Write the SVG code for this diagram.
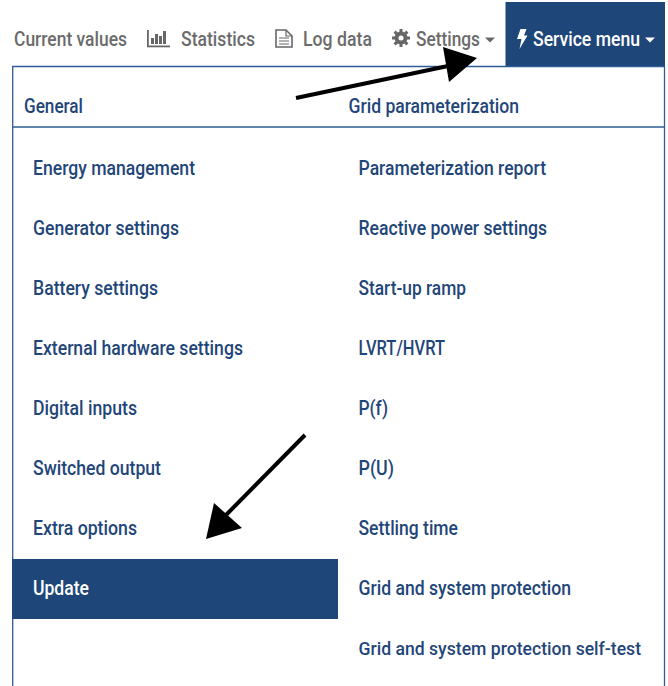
<svg xmlns="http://www.w3.org/2000/svg" width="668" height="686" viewBox="0 0 668 686">
<style>
text{font-family:Roboto,"Liberation Sans",sans-serif;font-size:19.5px;font-weight:500;fill:#1f4679}
.nav{fill:#6b6b6b}
.w{fill:#fff}
.ic{fill:#666}
.long{font-size:19px}
</style>
<rect width="668" height="686" fill="#fff"/>
<g id="navbar">
<text class="nav" x="14" y="45.500" textLength="113" lengthAdjust="spacingAndGlyphs">Current values</text>
<g id="icon-stats" class="ic"><rect x="147" y="30" width="1.8" height="17"/><rect x="147" y="45.500" width="23" height="1.800"/><rect x="151" y="38" width="3" height="6"/><rect x="155" y="34" width="3" height="10"/><rect x="159" y="36" width="3" height="8"/><rect x="163" y="31" width="3" height="13"/></g>
<text class="nav" x="181" y="45.500" textLength="74" lengthAdjust="spacingAndGlyphs">Statistics</text>
<g id="icon-doc"><path d="M276 30H286L292 36V47H276Z" fill="none" stroke="#666" stroke-width="1.600"/><path d="M286 30V36H292M279 38H289M279 41H289M279 44H289" fill="none" stroke="#666" stroke-width="1.200"/></g>
<text class="nav" x="303" y="45.500" textLength="69" lengthAdjust="spacingAndGlyphs">Log data</text>
<g id="icon-gear"><circle cx="401" cy="38" r="4.500" fill="none" stroke="#666" stroke-width="4"/><path d="M401 29V47M392 38H410M394.600 31.600L407.400 44.400M407.400 31.600L394.600 44.400" stroke="#666" stroke-width="3"/><circle cx="401" cy="38" r="2.500" fill="#fff"/></g>
<text class="nav" x="416" y="45.500" textLength="64" lengthAdjust="spacingAndGlyphs">Settings</text>
<path d="M485 37.500H495L490 42.500Z" fill="#666"/>
</g>
<g id="service-menu">
<rect x="505.500" y="2" width="159.500" height="64" fill="#1f4679"/>
<path d="M520.500 29H526.500L524 35.500H527.500L519.500 49L521.500 39H517Z" fill="#fff"/>
<text class="w" x="533" y="45.500" textLength="107" lengthAdjust="spacingAndGlyphs">Service menu</text>
<path d="M645 37.500H655L650 42.500Z" fill="#fff"/>
</g>
<g id="dropdown">
<path d="M12.700 686V66.500H664.500V686" fill="none" stroke="#2f5c92" stroke-width="1.300"/>
<path d="M12.700 127H664.500" fill="none" stroke="#2f5c92" stroke-width="1.300"/>
</g>
<g id="update-highlight"><rect x="12" y="559" width="326" height="60" fill="#1f4679"/></g>
<g id="col-general">
<text x="24" y="112.500" textLength="59" lengthAdjust="spacingAndGlyphs">General</text>
<text x="33" y="174.500" textLength="162" lengthAdjust="spacingAndGlyphs">Energy management</text>
<text x="33" y="234.500" textLength="146" lengthAdjust="spacingAndGlyphs">Generator settings</text>
<text x="33" y="294.500" textLength="125" lengthAdjust="spacingAndGlyphs">Battery settings</text>
<text x="33" y="354.500" textLength="210" lengthAdjust="spacingAndGlyphs">External hardware settings</text>
<text x="33" y="414.500" textLength="104" lengthAdjust="spacingAndGlyphs">Digital inputs</text>
<text x="33" y="474.500" textLength="128" lengthAdjust="spacingAndGlyphs">Switched output</text>
<text x="33" y="534.500" textLength="104" lengthAdjust="spacingAndGlyphs">Extra options</text>
<text class="w" x="33" y="594.500" textLength="56" lengthAdjust="spacingAndGlyphs">Update</text>
</g>
<g id="col-grid">
<text x="348.500" y="112.500" textLength="170.500" lengthAdjust="spacingAndGlyphs">Grid parameterization</text>
<text x="358.500" y="174.500" textLength="187.500" lengthAdjust="spacingAndGlyphs">Parameterization report</text>
<text x="358.500" y="234.500" textLength="188.500" lengthAdjust="spacingAndGlyphs">Reactive power settings</text>
<text x="358.500" y="294.500" textLength="107.500" lengthAdjust="spacingAndGlyphs">Start-up ramp</text>
<text x="358.500" y="354.500" textLength="86.500" lengthAdjust="spacingAndGlyphs">LVRT/HVRT</text>
<text x="358.500" y="414.500" textLength="29.500" lengthAdjust="spacingAndGlyphs">P(f)</text>
<text x="358.500" y="474.500" textLength="35.500" lengthAdjust="spacingAndGlyphs">P(U)</text>
<text x="358.500" y="534.500" textLength="99.500" lengthAdjust="spacingAndGlyphs">Settling time</text>
<text x="358.500" y="594.500" textLength="212.500" lengthAdjust="spacingAndGlyphs">Grid and system protection</text>
<text class="long" x="358.500" y="654.500" textLength="282.500" lengthAdjust="spacingAndGlyphs">Grid and system protection self-test</text>
</g>
<g id="connectors">
<path d="M296 98L448 66" stroke="#000" stroke-width="4" fill="none"/>
<path d="M477 58L443 47L449 82Z" fill="#000"/>
<path d="M305 435L226 515" stroke="#000" stroke-width="4" fill="none"/>
<path d="M206 539L214 503L242 528Z" fill="#000"/>
</g>
</svg>
